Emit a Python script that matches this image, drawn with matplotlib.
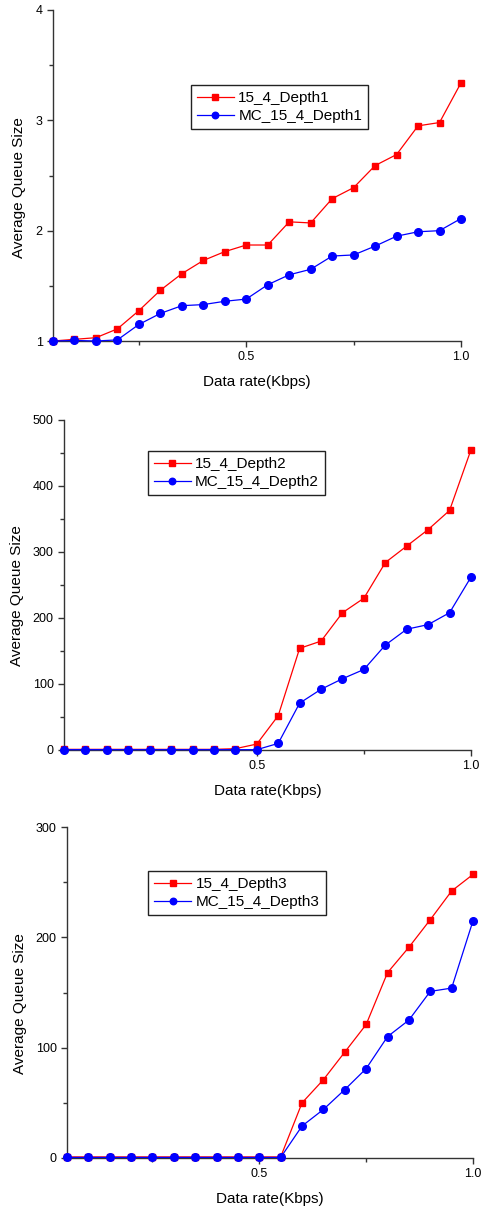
import matplotlib
matplotlib.use('Agg')
from matplotlib import pyplot as plt
from matplotlib.ticker import MultipleLocator, FixedLocator
import numpy as np

plt.rcParams['font.family'] = ['Liberation Sans', 'DejaVu Sans']

rate = [0.05, 0.10, 0.15, 0.20, 0.25, 0.30, 0.35, 0.40, 0.45, 0.50,
        0.55, 0.60, 0.65, 0.70, 0.75, 0.80, 0.85, 0.90, 0.95, 1.00]

depth1 = [1.0, 1.015, 1.03, 1.11, 1.275, 1.46, 1.61, 1.73, 1.81, 1.87,
          1.87, 2.08, 2.07, 2.29, 2.39, 2.59, 2.69, 2.95, 2.98, 3.34]
mc_depth1 = [1.0, 1.005, 1.0, 1.01, 1.15, 1.25, 1.32, 1.33, 1.36, 1.38,
             1.51, 1.60, 1.65, 1.77, 1.78, 1.86, 1.95, 1.99, 2.00, 2.11]

depth2 = [1, 1, 1, 1, 1, 1, 1, 1, 2, 9,
          52, 154, 165, 208, 230, 284, 309, 334, 363, 455]
mc_depth2 = [0.5, 0.5, 0.5, 0.5, 0.5, 0.5, 0.5, 0.5, 0.5, 0.5,
             10, 71, 92, 108, 122, 159, 183, 190, 208, 262]

depth3 = [1, 1, 1, 1, 1, 1, 1, 1, 1, 1,
          1, 50, 71, 96, 121, 168, 191, 216, 242, 257]
mc_depth3 = [0.5, 0.5, 0.5, 0.5, 0.5, 0.5, 0.5, 0.5, 0.5, 0.5,
             0.5, 29, 44, 62, 81, 110, 125, 151, 154, 215]

W, H = 484, 1209
fig = plt.figure(figsize=(W / 100, H / 100), dpi=100)

# (left, right, top, bottom) in pixels, ylim, y major step, legend anchor, label names
panels = [
    ((53, 461, 10, 341), (1, 4), 1, 0.5, (0.338, 0.773), depth1, mc_depth1,
     '15_4_Depth1', 'MC_15_4_Depth1', (-0.066, 0.465)),
    ((64, 471, 420, 750), (0, 500), 100, 50, (0.206, 0.906), depth2, mc_depth2,
     '15_4_Depth2', 'MC_15_4_Depth2', (-0.098, 0.468)),
    ((67, 473, 827, 1158), (0, 300), 100, 50, (0.200, 0.867), depth3, mc_depth3,
     '15_4_Depth3', 'MC_15_4_Depth3', (-0.099, 0.468)),
]

for box, ylim, major, minor, anchor, red, blue, name_r, name_b, ylab in panels:
    l, r, t, b = box
    ax = fig.add_axes([l / W, 1 - b / H, (r - l) / W, (b - t) / H])
    ax.plot(rate, red, color='#ff0000', marker='s', markersize=5, lw=0.9,
            label=name_r, clip_on=False, zorder=3)
    ax.plot(rate, blue, color='#0000ff', marker='o', markersize=5.5, lw=0.9,
            label=name_b, clip_on=False, zorder=4)
    ax.set_xlim(0.05, 1.0)
    ax.set_ylim(*ylim)
    ax.xaxis.set_major_locator(FixedLocator([0.5, 1.0]))
    ax.xaxis.set_minor_locator(FixedLocator([0.25, 0.75]))
    ax.set_xticklabels(['0.5', '1.0'])
    ax.yaxis.set_major_locator(MultipleLocator(major))
    ax.yaxis.set_minor_locator(MultipleLocator(minor))
    for s in ['top', 'right']:
        ax.spines[s].set_visible(False)
    for s in ['left', 'bottom']:
        ax.spines[s].set_linewidth(1.0)
        ax.spines[s].set_color('#333333')
    ax.tick_params(which='major', length=4.5, width=1.0, color='#333333',
                   labelsize=9, pad=3)
    ax.tick_params(which='minor', length=3, width=1.0, color='#333333')
    ax.set_xlabel('Data rate(Kbps)', fontsize=11)
    ax.set_ylabel('Average Queue Size', fontsize=11)
    ax.xaxis.set_label_coords(0.5, -0.103)
    ax.yaxis.set_label_coords(*ylab)
    leg = ax.legend(loc='upper left', bbox_to_anchor=anchor, fontsize=11,
                    fancybox=False, framealpha=1, edgecolor='#222222',
                    handlelength=2.4, handletextpad=0.3, labelspacing=0.25,
                    borderpad=0.4, borderaxespad=0, markerscale=0.85)
    leg.get_frame().set_linewidth(1.0)

fig.savefig('out.png', dpi=100)
